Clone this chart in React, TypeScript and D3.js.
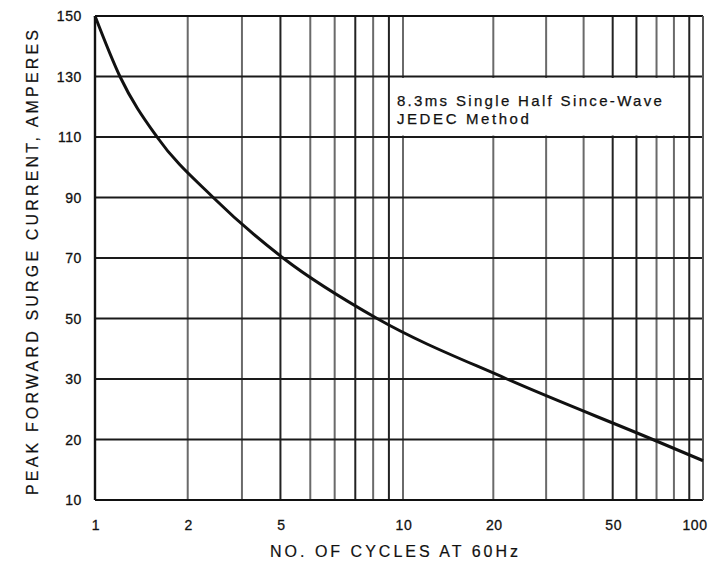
import React from "react";
import * as d3 from "d3";

// surge curve
const cycles = [1, 1.205, 1.59, 2.42, 4.08, 8.24, 22.2, 68, 100];
const current = [150, 130, 110, 90, 70, 50, 30, 20, 16.5];

// y axis is not linear: gridlines evenly spaced with these labels
const yLevels = [10, 20, 30, 50, 70, 90, 110, 130, 150];

const xGrid = [1, 2, 3, 4, 5, 6, 7, 8, 9, 10, 20, 30, 40, 50, 60, 70, 80, 90, 100];
// in the original the "5" label sits under the 4 line
const xTickLabels = ["1", "2", "5", "10", "20", "50", "100"];
const xTickAt = [1, 2, 4, 10, 20, 50, 100];
const darkX = [4, 7, 9, 50, 60, 90];

const noteLines = ["8.3ms  Single  Half  Since-Wave", "JEDEC  Method"];

const W = 720,
    H = 568;
const left = 95,
    mid = 403,
    right = 703,
    top = 16,
    bottom = 500;

export default function App() {
    // the two decades are not quite equal in the original
    const x = d3.scaleLog().domain([1, 10, 100]).range([left, mid, right]);
    const step = (bottom - top) / (yLevels.length - 1);
    const y = d3
        .scaleLinear()
        .domain(yLevels)
        .range(yLevels.map((_, i) => bottom - i * step));

    const pts = cycles.map((c, i) => [c, current[i]] as [number, number]);
    const line = d3
        .line<[number, number]>()
        .x((d) => x(d[0]))
        .y((d) => y(d[1]))
        .curve(d3.curveMonotoneX);

    const font = "'Liberation Sans', Arial, Helvetica, sans-serif";
    const ink = "#111";

    return (
        <svg
            width={W}
            height={H}
            style={{ position: "absolute", left: 0, top: 0, background: "#fff" }}
            fontFamily={font}
        >
            {/* vertical grid */}
            {xGrid.map((v) => (
                <line
                    key={"v" + v}
                    x1={x(v)}
                    x2={x(v)}
                    y1={top}
                    y2={bottom}
                    stroke={darkX.includes(v) ? "#222" : "#6a6a6a"}
                    strokeWidth={2}
                />
            ))}
            {/* horizontal grid */}
            {yLevels.map((v) => (
                <line
                    key={"h" + v}
                    x1={left}
                    x2={right}
                    y1={y(v)}
                    y2={y(v)}
                    stroke="#1a1a1a"
                    strokeWidth={1.8}
                />
            ))}
            {/* frame */}
            <line x1={left} x2={left} y1={top} y2={bottom} stroke="#111" strokeWidth={2.4} />
            <line x1={left} x2={right} y1={bottom} y2={bottom} stroke="#111" strokeWidth={2.2} />
            <line x1={left} x2={right} y1={top} y2={top} stroke="#111" strokeWidth={2.2} />
            <line x1={right} x2={right} y1={top} y2={bottom} stroke="#555" strokeWidth={2} />

            {/* note box, blanks the 110-130 band between the 9 and 90 lines */}
            <rect
                x={x(9) + 1.5}
                y={y(130) + 1.5}
                width={x(90) - x(9) - 3}
                height={y(110) - y(130) - 3}
                fill="#fff"
            />
            {noteLines.map((t, i) => (
                <text
                    key={t}
                    x={x(9) + 8}
                    y={y(130) + 29 + i * 18}
                    fontSize={15}
                    fill={ink}
                    stroke={ink}
                    strokeWidth={0.25}
                    textLength={i === 0 ? 265 : 132}
                    lengthAdjust="spacing"
                >
                    {t}
                </text>
            ))}

            {/* curve */}
            <path d={line(pts) || ""} fill="none" stroke="#111" strokeWidth={3} />

            {/* y ticks */}
            {yLevels.map((v) => (
                <text
                    key={"yl" + v}
                    x={left - 13}
                    y={y(v)}
                    dy="0.36em"
                    textAnchor="end"
                    fontSize={14}
                    fill={ink}
                    stroke={ink}
                    strokeWidth={0.3}
                    letterSpacing={0.6}
                >
                    {v}
                </text>
            ))}

            {/* x ticks */}
            {xTickAt.map((v, i) => (
                <text
                    key={"xl" + v}
                    x={x(v) + (v === 100 ? -8 : 1)}
                    y={bottom + 30}
                    textAnchor="middle"
                    fontSize={14}
                    fill={ink}
                    stroke={ink}
                    strokeWidth={0.3}
                    letterSpacing={0.6}
                >
                    {xTickLabels[i]}
                </text>
            ))}

            {/* axis titles */}
            <text
                x={270}
                y={557}
                fontSize={16}
                fill={ink}
                stroke={ink}
                strokeWidth={0.2}
                textLength={248}
                lengthAdjust="spacing"
            >
                NO.  OF  CYCLES  AT  60Hz
            </text>
            <text
                transform={`translate(38,495) rotate(-90)`}
                fontSize={16}
                fill={ink}
                stroke={ink}
                strokeWidth={0.2}
                textLength={465}
                lengthAdjust="spacing"
            >
                PEAK  FORWARD  SURGE  CURRENT,  AMPERES
            </text>
        </svg>
    );
}
